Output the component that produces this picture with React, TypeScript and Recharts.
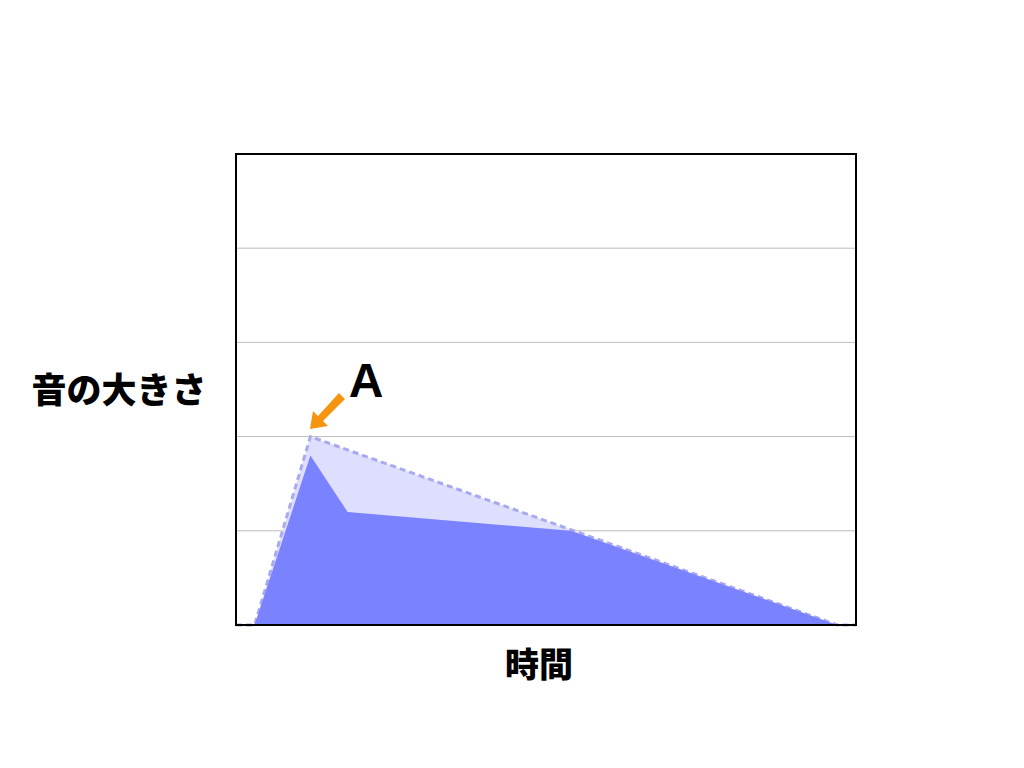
import { ComposedChart, Area, XAxis, YAxis, CartesianGrid, ReferenceArea } from 'recharts';

// time positions (0-100 across the plot)
const times = [0, 3, 12, 18, 54, 97, 100];
// envelope without damping (dashed outline), null = straight through
const envelope = [0, 0, 2, null, null, 0, 0];
// actual level (solid fill)
const level = [0, 0, 1.8, 1.2, 1.0, 0, 0];
const yTicks = [0, 1, 2, 3, 4, 5];

const rows = times.map((t, i) => ({ t, envelope: envelope[i], level: level[i] }));

const jp = '"Noto Sans CJK JP", "Noto Sans", sans-serif';

const NoTick = () => <g />;

export default function App() {
    return (
        <div style={{ position: 'absolute', left: 0, top: 0, width: 1024, height: 768, background: '#fff' }}>
            <ComposedChart
                width={1024}
                height={768}
                data={rows}
                margin={{ top: 154, right: 168, bottom: 143, left: 236 }}
            >
                <CartesianGrid vertical={false} stroke="#bdbdbd" strokeWidth={1} />
                <XAxis dataKey="t" type="number" domain={[0, 100]} tick={NoTick} tickLine={false} axisLine={false} height={0} />
                <YAxis type="number" domain={[0, 5]} ticks={yTicks} interval={0} tick={NoTick} tickLine={false} axisLine={false} width={0} />
                <Area
                    type="linear"
                    dataKey="envelope"
                    connectNulls
                    fill="#dedeff"
                    fillOpacity={1}
                    stroke="#a9a9f2"
                    strokeWidth={3}
                    strokeDasharray="6 4"
                    isAnimationActive={false}
                    dot={false}
                    activeDot={false}
                />
                <Area
                    type="linear"
                    dataKey="level"
                    fill="#7b82ff"
                    fillOpacity={1}
                    stroke="none"
                    isAnimationActive={false}
                    dot={false}
                    activeDot={false}
                />
                <ReferenceArea x1={0} x2={100} y1={0} y2={5} fill="none" stroke="#000" strokeWidth={2} ifOverflow="visible" />
            </ComposedChart>
            <svg width={1024} height={768} style={{ position: 'absolute', left: 0, top: 0, pointerEvents: 'none' }}>
                <text x={119} y={403} textAnchor="middle" fontFamily={jp} fontWeight={900} fontSize={35} fill="#000">音の大きさ</text>
                <text x={539} y={677} textAnchor="middle" fontFamily={jp} fontWeight={900} fontSize={34} fill="#000">時間</text>
                <text x={366} y={397} textAnchor="middle" fontFamily='"Liberation Sans", Arial, sans-serif' fontWeight={700} fontSize={48} fill="#000">A</text>
                <polygon points="339,393 345,399 323,421 328,426 310,429 313,411 318,416" fill="#f7940f" />
            </svg>
        </div>
    );
}
